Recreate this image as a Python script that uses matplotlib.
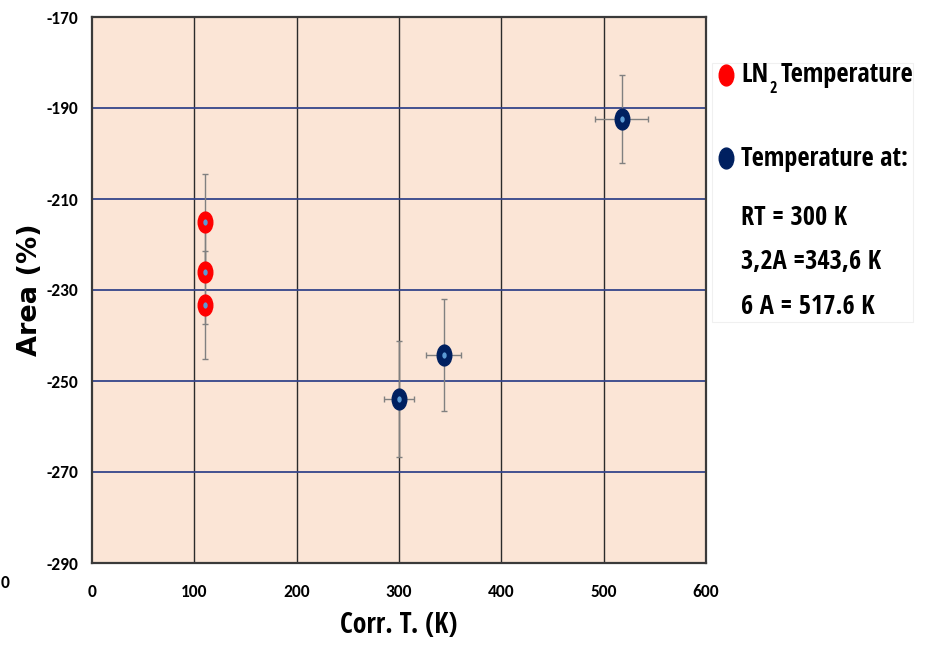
import matplotlib.pyplot as plt
from matplotlib.path import Path
from matplotlib.transforms import Affine2D

# Dati misurati
ln2_T = [110, 110, 110]
ln2_area = [-215.1, -226.0, -233.3]
ln2_err = [10.5, 11.4, 11.9]

heat_T = [300.0, 343.6, 517.6]
heat_area = [-254.0, -244.2, -192.4]
heat_err_y = [12.7, 12.3, 9.6]
heat_err_x = [15, 17, 26]

x_ticks = [0, 100, 200, 300, 400, 500, 600]
y_ticks = [-290, -270, -250, -230, -210, -190, -170]

legend_lines = ["RT = 300 K", "3,2A =343,6 K", "6 A = 517.6 K"]

TICK_FONT = ["Carlito", "DejaVu Sans"]
TEXT_FONT = ["Open Sans Condensed", "DejaVu Sans"]
plt.rcParams['font.family'] = TICK_FONT
plt.rcParams['axes.unicode_minus'] = False

W, H = 928, 645

# marker ellittico (più alto che largo)
ell = Path.unit_circle().transformed(Affine2D().scale(0.7, 1.0))

fig = plt.figure(figsize=(W / 100, H / 100), dpi=100)
ax = fig.add_axes([92 / W, 1 - 563 / H, 614 / W, 546 / H])
ax.set_facecolor("#fbe5d6")

ax.set_xlim(0, 600)
ax.set_ylim(-290, -170)
ax.set_xticks(x_ticks)
ax.set_yticks(y_ticks)
ax.tick_params(length=0, labelsize=12.5)
ax.tick_params(axis="x", pad=15)
ax.tick_params(axis="y", pad=10)
for lab in ax.get_xticklabels() + ax.get_yticklabels():
    lab.set_fontweight("bold")

# griglia
for x in x_ticks[1:-1]:
    ax.axvline(x, color="#2b2b2b", lw=1.0, zorder=1)
for y in y_ticks[1:-1]:
    ax.axhline(y, color="#34458a", lw=1.3, zorder=1)
for s in ax.spines.values():
    s.set_color("#3a3a3a")
    s.set_linewidth(1.6)

# barre di errore
ax.errorbar(ln2_T, ln2_area, yerr=ln2_err, fmt="none", ecolor="#808080",
            elinewidth=1.0, capsize=2.5, capthick=1.0, zorder=2)
ax.errorbar(heat_T, heat_area, yerr=heat_err_y, xerr=heat_err_x, fmt="none",
            ecolor="#808080", elinewidth=1.0, capsize=2.5, capthick=1.0, zorder=2)

# punti
ax.plot(ln2_T, ln2_area, ls="none", marker=ell, ms=15, mfc="#ff0000",
        mec="#ff0000", zorder=3)
ax.plot(heat_T, heat_area, ls="none", marker=ell, ms=15, mfc="#002060",
        mec="#002060", zorder=3)
ax.plot(ln2_T + heat_T, ln2_area + heat_area, ls="none", marker=ell, ms=4.5,
        mfc="#5b9bd5", mec="none", zorder=4)

ax.set_xlabel("Corr. T. (K)", fontsize=20, fontweight="bold",
              family=TEXT_FONT, labelpad=8)
ax.set_ylabel("Area (%)", fontsize=19.5, fontweight="bold",
              family=["DejaVu Sans"], labelpad=2)

fig.text(1 / W, 1 - 583 / H, "0", fontsize=12.5, fontweight="bold", va="center")

# legenda a testo
fig.patches.append(plt.Rectangle((712 / W, 1 - 322 / H), 201 / W, 259 / H,
                                 transform=fig.transFigure, fc="white",
                                 ec="#f0f0f0", lw=0.8))
fig.lines.append(plt.Line2D([726 / W], [1 - 75 / H], transform=fig.transFigure,
                            marker=ell, ms=15, color="#ff0000", ls="none"))
fig.lines.append(plt.Line2D([726 / W], [1 - 158 / H], transform=fig.transFigure,
                            marker=ell, ms=15, color="#002060", ls="none"))

LEG_FS = 19
r = fig.canvas.get_renderer()
t_ln = fig.text(741 / W, 1 - 75 / H, "LN", fontsize=LEG_FS, fontweight="bold",
                family=TEXT_FONT, va="center")
x_end = t_ln.get_window_extent(r).x1 / W
t_sub = fig.text(x_end + 1 / W, 1 - 89 / H, "2", fontsize=11.5, fontweight="bold",
                 family=TEXT_FONT, va="center")
x_end = t_sub.get_window_extent(r).x1 / W
fig.text(x_end + 4 / W, 1 - 75 / H, "Temperature", fontsize=LEG_FS,
         fontweight="bold", family=TEXT_FONT, va="center")
fig.text(741 / W, 1 - 158 / H, "Temperature at:", fontsize=LEG_FS,
         fontweight="bold", family=TEXT_FONT, va="center")
for i, t in enumerate(legend_lines):
    fig.text(741 / W, 1 - (217 + 45 * i) / H, t, fontsize=LEG_FS,
             fontweight="bold", family=TEXT_FONT, va="center")

fig.savefig("out.png", dpi=100)
